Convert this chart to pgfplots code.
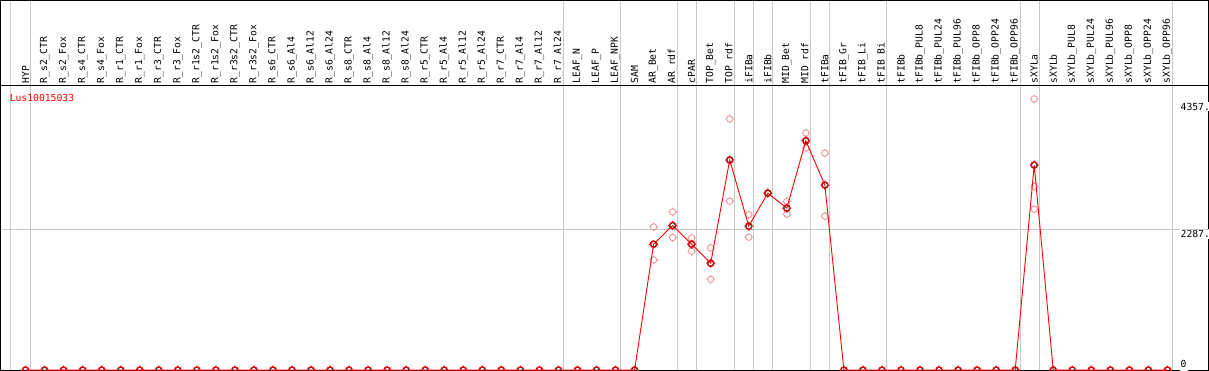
\documentclass[border=0pt]{standalone}
\usepackage{pgfplots}
\pgfplotsset{compat=1.18}
\usepackage{fontspec}
\setmainfont{DejaVu Sans}
\newfontfamily\labfont{DejaVu Sans Mono}
\newcommand\lf{\labfont\fontsize{9.7pt}{10pt}\selectfont}
\definecolor{sep}{RGB}{200,200,200}
\definecolor{rep}{RGB}{238,150,150}
\pgfdeclareplotmark{meanmark}{%
  \pgfsetlinewidth{1.2pt}%
  \pgfsetstrokecolor{red}%
  \pgfpathcircle{\pgfpointorigin}{3.3pt}%
  \pgfpathmoveto{\pgfpoint{0pt}{3.3pt}}\pgfpathlineto{\pgfpoint{0pt}{4.4pt}}%
  \pgfpathmoveto{\pgfpoint{0pt}{-3.3pt}}\pgfpathlineto{\pgfpoint{0pt}{-4.4pt}}%
  \pgfpathmoveto{\pgfpoint{3.3pt}{0pt}}\pgfpathlineto{\pgfpoint{4.4pt}{0pt}}%
  \pgfpathmoveto{\pgfpoint{-3.3pt}{0pt}}\pgfpathlineto{\pgfpoint{-4.4pt}{0pt}}%
  \pgfusepathqstroke
  \pgfsetlinewidth{0.3pt}%
  \pgfsetstrokecolor{black}%
  \pgfpathcircle{\pgfpointorigin}{2.5pt}%
  \pgfusepathqstroke
}
\pgfdeclareplotmark{repmark}{%
  \pgfsetlinewidth{0.9pt}%
  \pgfsetstrokecolor{rep}%
  \pgfpathcircle{\pgfpointorigin}{3.2pt}%
  \pgfpathmoveto{\pgfpoint{0pt}{3.2pt}}\pgfpathlineto{\pgfpoint{0pt}{4.3pt}}%
  \pgfpathmoveto{\pgfpoint{0pt}{-3.2pt}}\pgfpathlineto{\pgfpoint{0pt}{-4.3pt}}%
  \pgfpathmoveto{\pgfpoint{3.2pt}{0pt}}\pgfpathlineto{\pgfpoint{4.3pt}{0pt}}%
  \pgfpathmoveto{\pgfpoint{-3.2pt}{0pt}}\pgfpathlineto{\pgfpoint{-4.3pt}{0pt}}%
  \pgfusepathqstroke
}
\begin{document}
\begin{tikzpicture}
\begin{axis}[name=main, scale only axis, width=1206pt, height=284pt,
  xmin=-1.3158, xmax=62.158, ymin=0, ymax=4616,
  axis line style={black, line width=1pt},
  major tick length=0pt,
  xtick={0,...,60},
  xticklabels={HYP,R\_s2\_CTR,R\_s2\_Fox,R\_s4\_CTR,R\_s4\_Fox,R\_r1\_CTR,R\_r1\_Fox,R\_r3\_CTR,R\_r3\_Fox,R\_r1s2\_CTR,R\_r1s2\_Fox,R\_r3s2\_CTR,R\_r3s2\_Fox,R\_s6\_CTR,R\_s6\_Al4,R\_s6\_Al12,R\_s6\_Al24,R\_s8\_CTR,R\_s8\_Al4,R\_s8\_Al12,R\_s8\_Al24,R\_r5\_CTR,R\_r5\_Al4,R\_r5\_Al12,R\_r5\_Al24,R\_r7\_CTR,R\_r7\_Al4,R\_r7\_Al12,R\_r7\_Al24,LEAF\_N,LEAF\_P,LEAF\_NPK,SAM,AR\_Bet,AR\_rdf,cPAR,TOP\_Bet,TOP\_rdf,iFIBa,iFIBb,MID\_Bet,MID\_rdf,tFIBa,tFIB\_Gr,tFIB\_Li,tFIB\_Bi,tFIBb,tFIBb\_PUL8,tFIBb\_PUL24,tFIBb\_PUL96,tFIBb\_OPP8,tFIBb\_OPP24,tFIBb\_OPP96,sXYLa,sXYLb,sXYLb\_PUL8,sXYLb\_PUL24,sXYLb\_PUL96,sXYLb\_OPP8,sXYLb\_OPP24,sXYLb\_OPP96},
  xtick pos=upper, xticklabel pos=upper,
  x tick label style={rotate=90, anchor=west, font=\lf, inner sep=2pt},
  extra x ticks={-0.79,0.263,28.263,31.263,34.263,35.263,37.263,38.263,39.263,41.263,42.263,45.263,52.263,53.263,60.263},
  extra x tick labels={},
  extra x tick style={grid=major},
  ytick={0,2287,4357},
  yticklabels={\raisebox{4pt}[0pt][0pt]{0},2287.,4357.},
  ytick pos=right, yticklabel pos=right,
  y tick label style={anchor=north west, xshift=-29pt, font=\lf, inner sep=1pt, fill=white},
  extra y ticks={2287},
  extra y tick labels={},
  extra y tick style={grid=major},
  major grid style={sep, line width=1pt},
  clip marker paths=true,
]
\addplot[only marks, mark=repmark] coordinates {
(33,2324) (33,1788) (34,2568) (34,2151) (35,2146) (35,1929)
(36,1983) (36,1474) (37,4075) (37,2742) (38,2520) (38,2157)
(39,2872) (39,2872) (40,2736) (40,2531) (41,3848) (41,3604)
(42,3522) (42,2498) (53,4400) (53,2980) (53,2612)
};
\addplot[red, line width=0.9pt, mark=meanmark] coordinates {
(0,0) (1,0) (2,0) (3,0) (4,0) (5,0) (6,0) (7,0) (8,0) (9,0)
(10,0) (11,0) (12,0) (13,0) (14,0) (15,0) (16,0) (17,0) (18,0) (19,0)
(20,0) (21,0) (22,0) (23,0) (24,0) (25,0) (26,0) (27,0) (28,0) (29,0)
(30,0) (31,0) (32,0) (33,2043) (34,2346) (35,2043) (36,1734) (37,3409)
(38,2336) (39,2872) (40,2628) (41,3722) (42,3002) (43,0) (44,0) (45,0)
(46,0) (47,0) (48,0) (49,0) (50,0) (51,0) (52,0) (53,3327) (54,0)
(55,0) (56,0) (57,0) (58,0) (59,0) (60,0)
};
\node[anchor=north west, text=red, font=\lf, inner sep=0pt] at (rel axis cs:0.0075,0.972) {Lus10015033};
\end{axis}
\begin{axis}[name=top, at={(main.north west)}, anchor=south west,
  scale only axis, width=1206pt, height=85pt,
  xmin=-1.3158, xmax=62.158, ymin=0, ymax=1,
  axis line style={black, line width=1pt},
  major tick length=0pt,
  xtick={-0.79,0.263,28.263,31.263,34.263,35.263,37.263,38.263,39.263,41.263,42.263,45.263,52.263,53.263,60.263},
  xticklabels={}, ytick=\empty,
  xmajorgrids, major grid style={sep, line width=1pt},
]
\end{axis}
\pgfresetboundingbox
\path[use as bounding box] ([shift={(-0.5pt,-0.5pt)}]main.south west) rectangle ([shift={(0.5pt,0.5pt)}]top.north east);
\end{tikzpicture}
\end{document}
